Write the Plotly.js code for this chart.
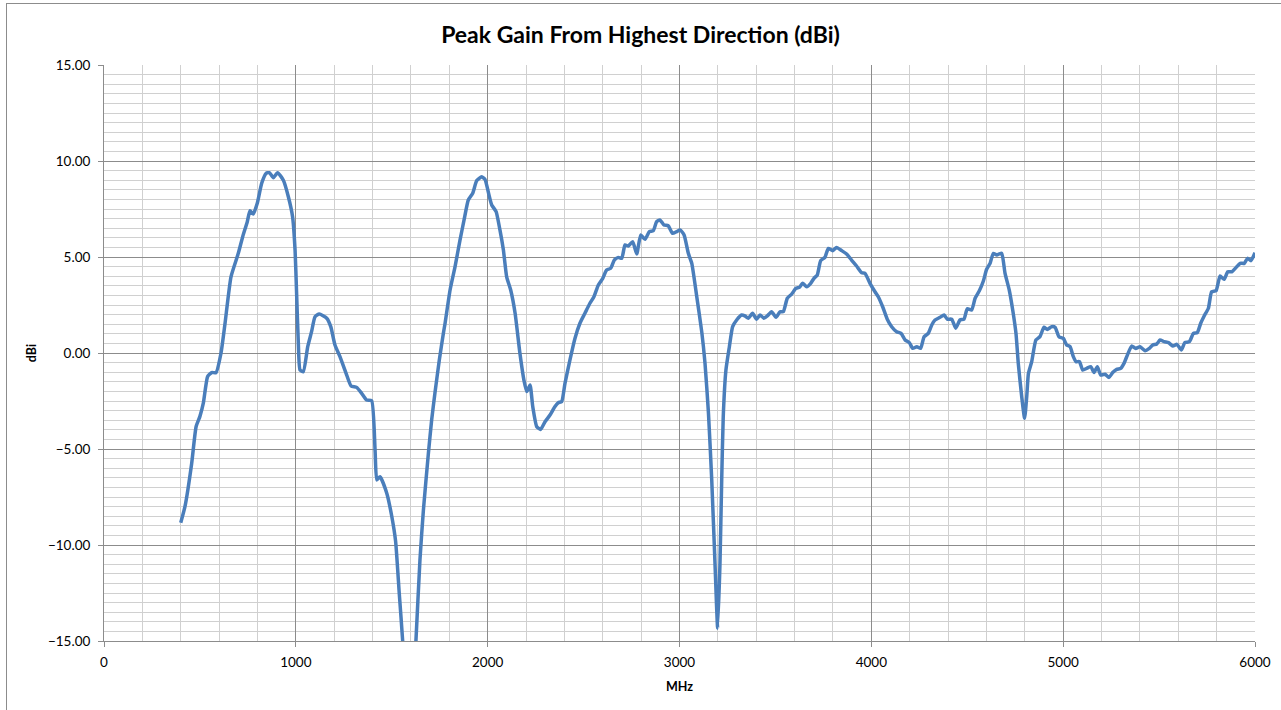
<!DOCTYPE html>
<html>
<head>
<meta charset="utf-8">
<script src="https://cdn.plot.ly/plotly-3.0.1.min.js"></script>
<style>
html,body{margin:0;padding:0;overflow:hidden;background:#fff;}
#chart{position:absolute;left:0;top:0;width:1281px;height:710px;}
#frame{position:absolute;left:6px;top:3px;width:1290px;height:730px;border:1px solid #8c8c8c;pointer-events:none;}
</style>
</head>
<body>
<div id="chart"></div>
<div id="frame"></div>
<script>
const freqMHz = [400,422,457,480,500,518,540,561,584,610,631,662,700,723,747,761,778,799,822,845,862,883,905,935,961,983,996,1004,1013,1022,1039,1062,1082,1100,1122,1161,1182,1204,1230,1262,1288,1317,1343,1369,1395,1413,1422,1439,1474,1500,1520,1539,1557,1575,1592,1610,1626,1647,1665,1691,1708,1725,1748,1769,1778,1804,1830,1856,1877,1899,1922,1943,1969,1986,2009,2021,2044,2064,2082,2099,2120,2143,2168,2189,2204,2221,2235,2256,2276,2299,2325,2351,2368,2386,2403,2429,2455,2481,2507,2533,2554,2577,2600,2620,2641,2660,2681,2699,2716,2733,2756,2777,2798,2820,2843,2863,2881,2898,2919,2941,2964,2985,3003,3024,3046,3064,3090,3116,3133,3151,3168,3185,3199,3211,3220,3228,3242,3260,3277,3298,3324,3341,3359,3381,3402,3420,3440,3458,3480,3503,3524,3541,3562,3585,3607,3625,3642,3663,3684,3701,3718,3736,3758,3776,3799,3819,3846,3871,3897,3923,3950,3967,3993,4019,4036,4059,4083,4106,4132,4155,4176,4198,4216,4237,4257,4275,4297,4315,4332,4358,4379,4396,4419,4440,4462,4483,4500,4523,4541,4563,4584,4601,4619,4636,4654,4667,4680,4697,4719,4737,4754,4766,4784,4799,4810,4819,4836,4858,4879,4900,4917,4940,4958,4978,5001,5018,5036,5053,5067,5085,5102,5123,5144,5161,5178,5196,5218,5239,5258,5279,5300,5317,5335,5357,5378,5401,5427,5449,5467,5488,5505,5526,5549,5572,5593,5616,5634,5658,5679,5699,5717,5735,5757,5774,5797,5818,5839,5858,5879,5902,5923,5944,5961,5979,6000];
const gainDBi = [-8.84,-8.0,-5.75,-3.84,-3.3,-2.6,-1.23,-1.02,-1.02,0.0,1.55,3.97,5.19,6.06,6.84,7.41,7.24,7.8,8.84,9.36,9.39,9.13,9.39,9.0,8.14,7.1,5.36,3.11,0.5,-0.89,-0.97,0.33,1.11,1.89,2.03,1.81,1.37,0.42,-0.19,-1.06,-1.72,-1.79,-2.1,-2.45,-2.48,-5.05,-6.61,-6.44,-7.3,-8.5,-9.8,-12.5,-15.0,-18.5,-19.5,-18.0,-15.0,-10.78,-8.18,-5.23,-3.49,-2.1,-0.36,1.02,1.55,3.28,4.5,5.89,6.93,7.97,8.32,8.98,9.18,9.04,8.14,7.71,7.36,6.41,5.36,3.97,3.28,2.07,0.0,-1.41,-2.01,-1.67,-2.79,-3.84,-3.98,-3.58,-3.23,-2.79,-2.59,-2.53,-1.58,-0.36,0.76,1.55,2.07,2.59,2.93,3.54,3.89,4.32,4.41,4.84,4.98,4.93,5.63,5.57,5.8,5.16,6.15,5.92,6.32,6.37,6.84,6.93,6.67,6.63,6.23,6.32,6.41,6.15,5.19,4.67,2.93,1.1,-0.54,-3.14,-6.61,-10.95,-14.34,-10.95,-6.61,-3.32,-0.89,0.33,1.37,1.72,1.98,1.93,1.81,2.07,1.76,1.98,1.81,1.93,2.15,1.86,2.15,2.15,2.85,3.07,3.37,3.42,3.63,3.45,3.63,3.89,4.06,4.81,4.98,5.45,5.33,5.5,5.33,5.16,4.84,4.53,4.18,4.15,3.63,3.19,2.93,2.41,1.76,1.37,1.11,1.02,0.68,0.54,0.24,0.33,0.24,0.85,1.02,1.46,1.72,1.86,1.98,1.76,1.76,1.29,1.72,1.76,2.3,2.24,2.85,3.24,3.75,4.36,4.67,5.19,5.1,5.16,5.19,4.15,3.28,2.24,1.02,-0.54,-2.28,-3.4,-2.28,-1.06,-0.45,0.68,0.85,1.34,1.23,1.37,1.34,0.85,0.76,0.42,0.33,-0.19,-0.45,-0.45,-0.89,-0.8,-0.71,-1.02,-0.71,-1.15,-1.1,-1.27,-1.02,-0.85,-0.8,-0.54,-0.1,0.36,0.24,0.33,0.12,0.24,0.42,0.47,0.68,0.59,0.54,0.36,0.45,0.16,0.54,0.59,1.02,1.06,1.55,1.93,2.33,3.19,3.24,4.01,3.84,4.23,4.23,4.46,4.67,4.67,4.93,4.81,5.22];

const chartTitle = 'Peak Gain From Highest Direction (dBi)';
const xTitle = 'MHz';
const yTitle = 'dBi';

const FONT = 'Lato, "Open Sans", "Liberation Sans", sans-serif';
const MAJOR = '#8c8c8c';
const MINOR = '#d0d0d0';

Plotly.newPlot('chart', [{
  x: freqMHz,
  y: gainDBi,
  type: 'scatter',
  mode: 'lines',
  line: {color: '#4a7ebb', width: 3.5, shape: 'spline', smoothing: 0.5},
  hoverinfo: 'x+y'
}], {
  width: 1281, height: 710,
  margin: {l: 104, r: 26, t: 65, b: 69},
  paper_bgcolor: '#ffffff',
  plot_bgcolor: '#ffffff',
  showlegend: false,
  font: {family: FONT, size: 13, color: '#000'},
  title: {text: '<b>' + chartTitle + '</b>', font: {family: FONT, size: 23, color: '#000'}, x: 0.5, xanchor: 'center', y: 0.951, yanchor: 'middle', yref: 'container'},
  xaxis: {
    range: [0, 6000], tick0: 0, dtick: 1000,
    showgrid: true, gridcolor: MAJOR, gridwidth: 1,
    minor: {dtick: 200, showgrid: true, gridcolor: MINOR, gridwidth: 1, ticks: ''},
    showline: true, linecolor: MAJOR, linewidth: 1,
    ticks: 'outside', ticklen: 5, tickcolor: MAJOR,
    ticklabelstandoff: 4,
    zeroline: false,
    tickfont: {family: FONT, size: 13.5, color: '#000'},
    title: {text: '<b>' + xTitle + '</b>', font: {family: FONT, size: 12.5, color: '#000'}, standoff: 13}
  },
  yaxis: {
    range: [-15, 15], tick0: -15, dtick: 5, tickformat: '.2f',
    showgrid: true, gridcolor: MAJOR, gridwidth: 1,
    minor: {dtick: 0.5, showgrid: true, gridcolor: MINOR, gridwidth: 1, ticks: ''},
    showline: true, linecolor: MAJOR, linewidth: 1,
    ticks: 'outside', ticklen: 5, tickcolor: MAJOR,
    ticklabelstandoff: 5,
    zeroline: false,
    tickfont: {family: FONT, size: 13.5, color: '#000'},
    title: {text: '<b>' + yTitle + '</b>', font: {family: FONT, size: 12.5, color: '#000'}, standoff: 8}
  }
}, {displayModeBar: false, staticPlot: true});
</script>
</body>
</html>
